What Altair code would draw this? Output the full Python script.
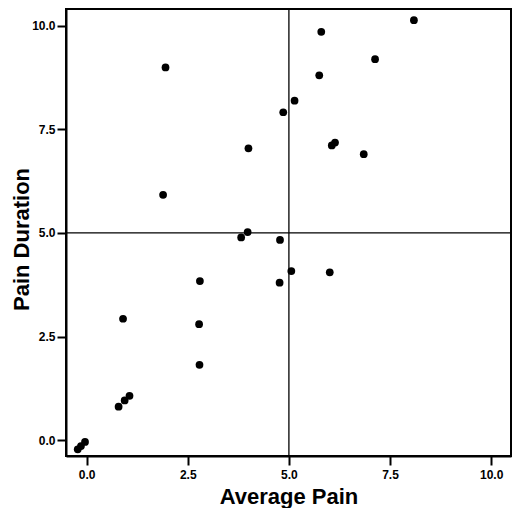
import altair as alt
import pandas as pd

avg_pain = [8.09, 5.80, 7.13, 1.95, 5.75, 5.14, 4.86, 6.14, 6.06, 6.85, 4.00, 1.89,
            3.98, 3.82, 4.78, 2.80, 4.77, 5.06, 6.01, 0.90, 2.78, 2.79, 0.79, 0.94,
            1.06, -0.22, -0.14, -0.04]
pain_duration = [10.13, 9.85, 9.19, 8.99, 8.80, 8.19, 7.91, 7.18, 7.11, 6.90, 7.04, 5.92,
                 5.02, 4.89, 4.83, 3.84, 3.80, 4.08, 4.05, 2.93, 2.80, 1.82, 0.81, 0.96,
                 1.07, -0.22, -0.14, -0.04]
tick_values = [0.0, 2.5, 5.0, 7.5, 10.0]
ref_x = [5.0]
ref_y = [5.0]

df = pd.DataFrame({"Average Pain": avg_pain, "Pain Duration": pain_duration})
vdf = pd.DataFrame({"v": ref_x})
hdf = pd.DataFrame({"h": ref_y})

W, H = 445, 447

xscale = alt.Scale(domain=[-0.51, 10.49], nice=False, zero=False)
yscale = alt.Scale(domain=[-0.38, 10.40], nice=False, zero=False)

points = alt.Chart(df).mark_circle(size=60, color="black", opacity=1).encode(
    x=alt.X("Average Pain:Q", scale=xscale,
            axis=alt.Axis(values=tick_values, format=".1f", title="Average Pain",
                          titleY=47, titleBaseline="alphabetic")),
    y=alt.Y("Pain Duration:Q", scale=yscale,
            axis=alt.Axis(values=tick_values, format=".1f", title="Pain Duration",
                          titleX=-38, titleY=230, titleBaseline="alphabetic")),
)

vrule = alt.Chart(vdf).mark_rule(color="black", strokeWidth=1.3).encode(
    x=alt.X("v:Q", scale=xscale)
)
hrule = alt.Chart(hdf).mark_rule(color="black", strokeWidth=1.3).encode(
    y=alt.Y("h:Q", scale=yscale)
)

chart = alt.layer(vrule, hrule, points).properties(
    width=W,
    height=H,
    autosize=alt.AutoSizeParams(type="none"),
    padding={"left": 58, "top": 1, "right": 1, "bottom": 52},
).configure_view(
    stroke="black", strokeWidth=2
).configure_axis(
    grid=False,
    domainColor="black", domainWidth=2,
    tickColor="black", tickWidth=2, tickSize=9,
    labelFont="Liberation Sans", labelFontWeight="bold", labelFontSize=12,
    labelColor="black",
    titleFont="Liberation Sans", titleFontWeight="bold", titleFontSize=22,
    titleColor="black",
).configure_axisX(
    labelPadding=4
).configure_axisY(
    labelPadding=2
)

chart.save("out.html", embed_options={"renderer": "svg", "actions": False})
